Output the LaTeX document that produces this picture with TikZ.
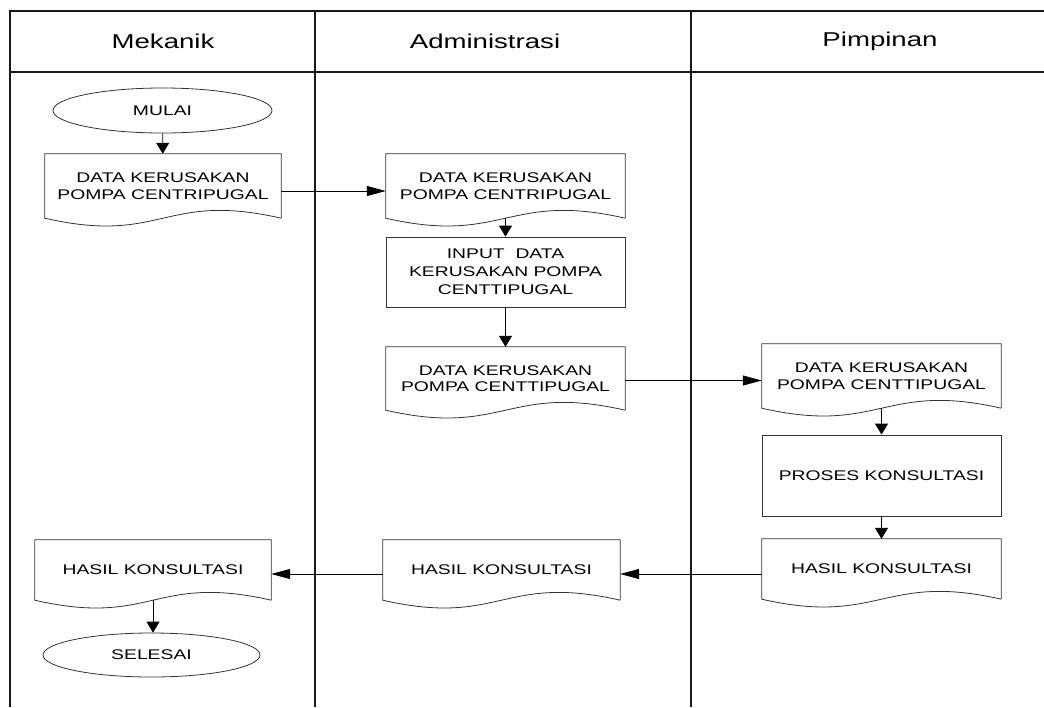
\documentclass[tikz,border=0pt]{standalone}
\usepackage{fontspec}
\setmainfont{Liberation Sans}[FakeStretch=1.38]
\usetikzlibrary{arrows.meta,shapes,calc,positioning}
\tikzstyle{lane}=[line width=1.6pt, draw=black!90]
\tikzstyle{head}=[inner sep=0pt, font=\fontsize{20}{24}\selectfont]
\tikzstyle{term}=[ellipse, draw=black!80, line width=0.8pt,
                  inner sep=0pt, font=\fontsize{14}{16}\selectfont]
\tikzstyle{proc}=[rectangle, draw=black!80, line width=0.8pt,
                  inner sep=0pt, align=center,
                  font=\fontsize{14}{18}\selectfont]
\tikzstyle{doc} =[rectangle, inner sep=0pt, align=center,
                  font=\fontsize{14}{16.5}\selectfont]
\tikzstyle{flow}=[line width=0.8pt, -{Triangle[length=11pt,width=13pt]}]
\tikzstyle{hflow}=[line width=0.8pt, -{Triangle[length=19pt,width=10pt]}]
% outline of a document symbol around a named doc node
\newcommand{\docline}[1]{%
  \draw[line width=0.8pt, draw=black!80] (#1.south east) -- (#1.north east)
    -- (#1.north west) -- (#1.south west)
    .. controls +(118pt,-27pt) and +(-118pt,27pt) .. (#1.south east);}

\begin{document}
\begin{tikzpicture}[x=1pt, y=-1pt]
  \useasboundingbox (0,0) rectangle (1044,707);
  % swimlanes
  \draw[lane] (10,707) -- (10,11) -- (1044,11);
  \draw[lane] (10,72) -- (1044,72);
  \draw[lane] (315,11) -- (315,707);
  \draw[lane] (691,11) -- (691,707);
  \node[head] (hm) at (163,41) {Mekanik};
  \node[head] (ha) at (485,41) {Administrasi};
  \node[head] (hp) at (880,41) {Pimpinan};

  % Mekanik
  \node[term, minimum width=219pt, minimum height=45pt] (mulai) at (162.5,110.5) {MULAI};
  \node[doc, minimum width=236pt, minimum height=64pt] (d1) at (163,186)
        {DATA KERUSAKAN\\POMPA CENTRIPUGAL};
  \node[doc, minimum width=236pt, minimum height=60pt] (d7) at (153,570) {HASIL KONSULTASI};
  \node[term, minimum width=217pt, minimum height=44pt] (selesai) at (151.5,655) {SELESAI};

  % Administrasi
  \node[doc, minimum width=239pt, minimum height=64pt] (d2) at (505.5,186)
        {DATA KERUSAKAN\\POMPA CENTRIPUGAL};
  \node[proc, minimum width=239pt, minimum height=70pt] (p1) at (505.5,272)
        {INPUT\ \ DATA\\KERUSAKAN POMPA\\CENTTIPUGAL};
  \node[doc, minimum width=239pt, minimum height=63pt] (d3) at (505.5,378.5)
        {DATA KERUSAKAN\\POMPA CENTTIPUGAL};
  \node[doc, minimum width=237pt, minimum height=60pt] (d6) at (501.5,570) {HASIL KONSULTASI};

  % Pimpinan
  \node[doc, minimum width=239pt, minimum height=64pt] (d4) at (881.5,376)
        {DATA KERUSAKAN\\POMPA CENTTIPUGAL};
  \node[proc, minimum width=239pt, minimum height=81pt] (p2) at (881.5,475.5)
        {PROSES KONSULTASI};
  \node[doc, minimum width=239pt, minimum height=60pt] (d5) at (881.5,569) {HASIL KONSULTASI};

  \docline{d1} \docline{d2} \docline{d3} \docline{d4}
  \docline{d5} \docline{d6} \docline{d7}

  % flows
  \draw[flow] (mulai) -- (d1);
  \draw[hflow] ([yshift=-5pt]d1.east) -- ([yshift=-5pt]d1.east -| d2.west);
  \draw[flow] (d2.south) -- (p1.north);
  \draw[flow] (p1.south) -- (d3.north);
  \draw[hflow] ([yshift=-2pt]d3.east) -- ([yshift=-2pt]d3.east -| d4.west);
  \draw[flow] (d4.south) -- (p2.north);
  \draw[flow] (p2.south) -- (d5.north);
  \draw[hflow] ([yshift=-5pt]d5.west) -- ([yshift=-5pt]d5.west -| d6.east);
  \draw[hflow] ([yshift=-4pt]d6.west) -- ([yshift=-4pt]d6.west -| d7.east);
  \draw[flow] (d7.south) -- (d7.south |- selesai.north);
\end{tikzpicture}
\end{document}
